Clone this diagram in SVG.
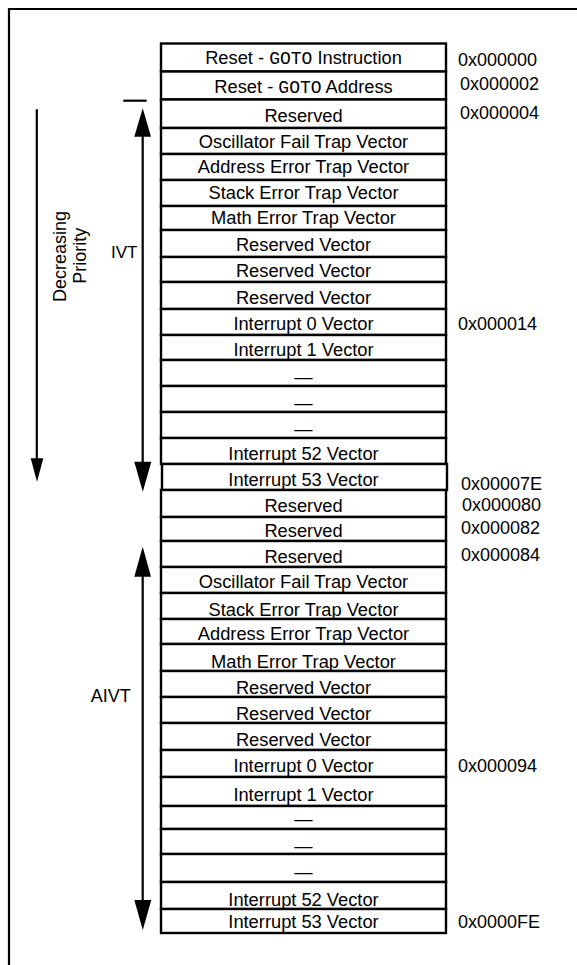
<svg xmlns="http://www.w3.org/2000/svg" width="577" height="965" viewBox="0 0 577 965">
<style>
text{font-family:"Liberation Sans",Arial,sans-serif;fill:#000}
.cell rect{fill:#fff;stroke:#000;stroke-width:2.4}
.cell text{font-size:18.3px;text-anchor:middle}
.mono{font-family:"Liberation Mono","Courier New",monospace;font-size:18px}
.addr{font-size:18px}
.lbl{font-size:18px}
.ln{stroke:#000;stroke-width:2.2;fill:none}
.hd{fill:#000;stroke:none}
</style>
<rect width="577" height="965" fill="#fff"/>
<path class="ln" d="M577,9 H9 V965"/>
<g id="table">
<g id="r1" class="cell"><rect x="161" y="43.5" width="285" height="28"/><text x="303.5" y="64.3">Reset - <tspan class="mono">GOTO</tspan> Instruction</text></g>
<g id="r2" class="cell"><rect x="161" y="71.5" width="285" height="28"/><text x="303.5" y="92.7">Reset - <tspan class="mono">GOTO</tspan> Address</text></g>
<g id="r3" class="cell"><rect x="161" y="99.5" width="285" height="28.5"/><text x="303.5" y="121.7">Reserved</text></g>
<g id="r4" class="cell"><rect x="161" y="128" width="285" height="26"/><text x="303.5" y="148">Oscillator Fail Trap Vector</text></g>
<g id="r5" class="cell"><rect x="161" y="154" width="285" height="26"/><text x="303.5" y="173.3">Address Error Trap Vector</text></g>
<g id="r6" class="cell"><rect x="161" y="180" width="285" height="26"/><text x="303.5" y="199">Stack Error Trap Vector</text></g>
<g id="r7" class="cell"><rect x="161" y="206" width="285" height="24"/><text x="303.5" y="224">Math Error Trap Vector</text></g>
<g id="r8" class="cell"><rect x="161" y="230" width="285" height="27"/><text x="303.5" y="250.7">Reserved Vector</text></g>
<g id="r9" class="cell"><rect x="161" y="257" width="285" height="25"/><text x="303.5" y="276.7">Reserved Vector</text></g>
<g id="r10" class="cell"><rect x="161" y="282" width="285" height="27"/><text x="303.5" y="304.3">Reserved Vector</text></g>
<g id="r11" class="cell"><rect x="161" y="309" width="285" height="26"/><text x="303.5" y="330">Interrupt 0 Vector</text></g>
<g id="r12" class="cell"><rect x="161" y="335" width="285" height="25"/><text x="303.5" y="356">Interrupt 1 Vector</text></g>
<g id="r13" class="cell"><rect x="161" y="360" width="285" height="26"/><text x="303.5" y="382.5">—</text></g>
<g id="r14" class="cell"><rect x="161" y="386" width="285" height="26"/><text x="303.5" y="408.5">—</text></g>
<g id="r15" class="cell"><rect x="161" y="412" width="285" height="26"/><text x="303.5" y="434.5">—</text></g>
<g id="r16" class="cell"><rect x="161" y="438" width="285" height="26"/><text x="303.5" y="460">Interrupt 52 Vector</text></g>
<g id="r17" class="cell"><rect x="162" y="464" width="285" height="26"/><text x="303.5" y="486">Interrupt 53 Vector</text></g>
<g id="r18" class="cell"><rect x="161" y="490" width="285" height="27"/><text x="303.5" y="512.3">Reserved</text></g>
<g id="r19" class="cell"><rect x="161" y="517" width="285" height="24"/><text x="303.5" y="537.3">Reserved</text></g>
<g id="r20" class="cell"><rect x="161" y="541" width="285" height="26"/><text x="303.5" y="563.3">Reserved</text></g>
<g id="r21" class="cell"><rect x="161" y="567" width="285" height="26"/><text x="303.5" y="588.3">Oscillator Fail Trap Vector</text></g>
<g id="r22" class="cell"><rect x="161" y="593" width="285" height="26"/><text x="303.5" y="615.7">Stack Error Trap Vector</text></g>
<g id="r23" class="cell"><rect x="161" y="619" width="285" height="25"/><text x="303.5" y="640.3">Address Error Trap Vector</text></g>
<g id="r24" class="cell"><rect x="161" y="644" width="285" height="27"/><text x="303.5" y="668.3">Math Error Trap Vector</text></g>
<g id="r25" class="cell"><rect x="161" y="671" width="285" height="26"/><text x="303.5" y="694">Reserved Vector</text></g>
<g id="r26" class="cell"><rect x="161" y="697" width="285" height="26"/><text x="303.5" y="720">Reserved Vector</text></g>
<g id="r27" class="cell"><rect x="161" y="723" width="285" height="27"/><text x="303.5" y="746">Reserved Vector</text></g>
<g id="r28" class="cell"><rect x="161" y="750" width="285" height="27"/><text x="303.5" y="772.3">Interrupt 0 Vector</text></g>
<g id="r29" class="cell"><rect x="161" y="777" width="285" height="29"/><text x="303.5" y="801">Interrupt 1 Vector</text></g>
<g id="r30" class="cell"><rect x="161" y="806" width="285" height="23"/><text x="303.5" y="825">—</text></g>
<g id="r31" class="cell"><rect x="161" y="829" width="285" height="25"/><text x="303.5" y="852">—</text></g>
<g id="r32" class="cell"><rect x="161" y="854" width="285" height="28"/><text x="303.5" y="878">—</text></g>
<g id="r33" class="cell"><rect x="161" y="882" width="285" height="27"/><text x="303.5" y="906">Interrupt 52 Vector</text></g>
<g id="r34" class="cell"><rect x="161" y="909" width="285" height="24"/><text x="303.5" y="928.3">Interrupt 53 Vector</text></g>
</g>
<g id="addresses" class="addr">
<text x="458" y="65.7">0x000000</text>
<text x="460" y="90">0x000002</text>
<text x="460" y="119">0x000004</text>
<text x="458" y="330">0x000014</text>
<text x="461" y="490">0x00007E</text>
<text x="462" y="511">0x000080</text>
<text x="461" y="534.3">0x000082</text>
<text x="461" y="560.7">0x000084</text>
<text x="458" y="772.3">0x000094</text>
<text x="458" y="928.3">0x0000FE</text>
</g>
<g id="labels" class="lbl">
<text x="111" y="258.3" style="font-size:17px">IVT</text>
<text x="90.7" y="701.7">AIVT</text>
<text transform="translate(65.5,256.5) rotate(-90)" text-anchor="middle">Decreasing</text>
<text transform="translate(86,255.7) rotate(-90)" text-anchor="middle">Priority</text>
</g>
<g id="connectors">
<line class="ln" x1="36.8" y1="109.3" x2="36.8" y2="460"/>
<polygon class="hd" points="30.7,458.3 43.3,458.3 37,481.7"/>
<line class="ln" x1="123.3" y1="100.7" x2="146.7" y2="100.7"/>
<line class="ln" x1="142.7" y1="130" x2="142.7" y2="465"/>
<polygon class="hd" points="142.7,108.3 151,136.7 134.3,136.7"/>
<polygon class="hd" points="134.3,461.7 151.3,461.7 142.8,491.7"/>
<line class="ln" x1="142.7" y1="570" x2="142.7" y2="905"/>
<polygon class="hd" points="142.7,546.7 151,576.7 134.3,576.7"/>
<polygon class="hd" points="134.3,900 151.3,900 142.8,930"/>
</g>
</svg>
